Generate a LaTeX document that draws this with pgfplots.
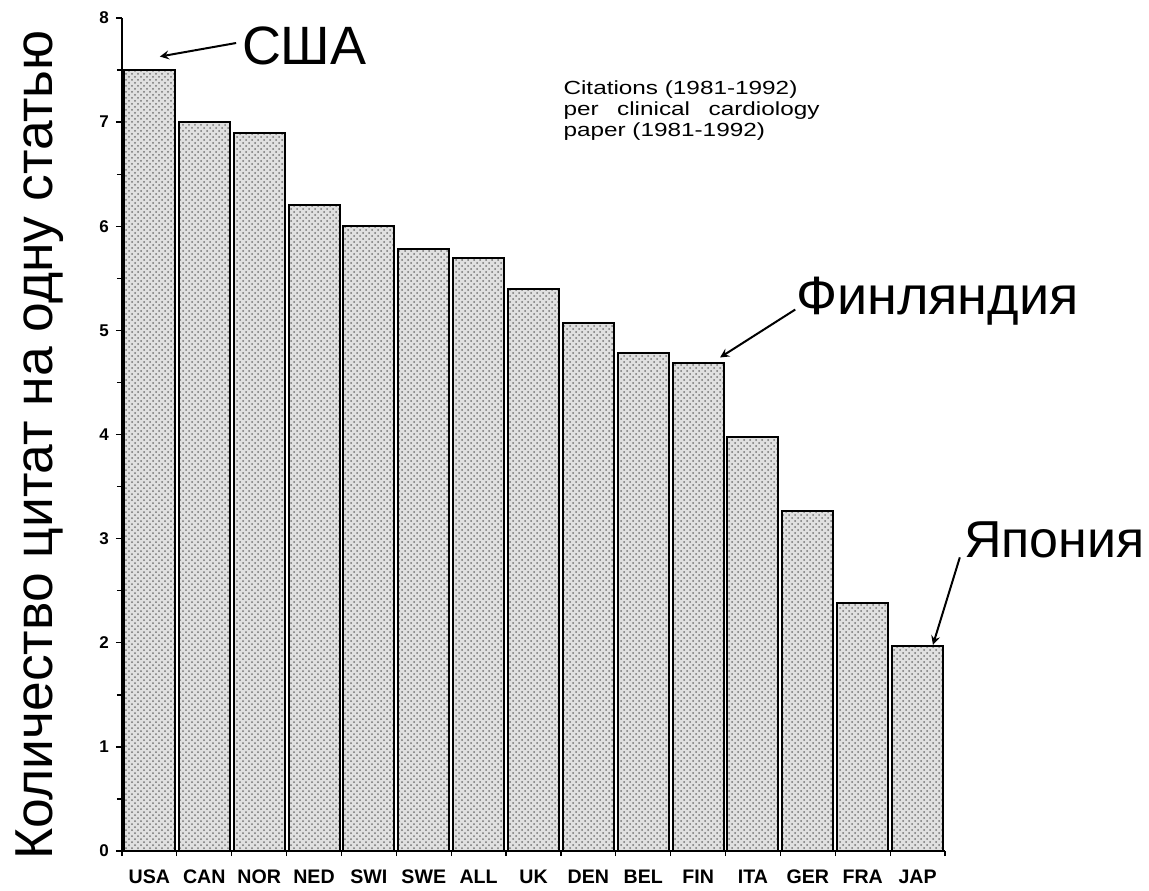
\documentclass[border=0pt]{standalone}
\usepackage{fontspec}
\setmainfont{Liberation Sans}
\newfontfamily\widefont[FakeStretch=1.28]{Liberation Sans}
\usepackage{pgfplots}
\pgfplotsset{compat=1.18}
\usetikzlibrary{patterns}
\begin{document}
\begin{tikzpicture}
\useasboundingbox (0,0) rectangle (574.5pt,445pt);
\begin{axis}[
  at={(61pt,19.5pt)}, anchor=south west,
  scale only axis, width=411.5pt, height=416.5pt,
  xmin=-0.5, xmax=14.5, ymin=0, ymax=8,
  axis x line=bottom, axis y line=left, axis line style={-, line width=1pt},
  xtick={0,...,14},
  xticklabels={USA,CAN,NOR,NED,SWI,SWE,ALL,UK,DEN,BEL,FIN,ITA,GER,FRA,JAP},
  major x tick style={draw=none},
  minor xtick={-0.5,0.5,...,14.5},
  minor x tick style={line width=0.6pt},
  ytick={0,...,8},
  minor y tick num=1,
  tick align=outside,
  major tick length=3pt, minor tick length=2.5pt,
  tick style={black, line width=0.7pt},
  xticklabel style={font=\fontsize{9.8}{12}\selectfont\bfseries, text height=7pt, text depth=0pt, yshift=-2.5pt},
  yticklabel style={font=\fontsize{8.5}{10}\selectfont\bfseries},
  /pgf/number format/assume math mode=true,
  clip=false,
]
\addplot[ybar, bar width=25.5pt, draw=black, line width=1pt, fill=black!12,
  postaction={pattern=crosshatch dots, pattern color=black!55}]
  coordinates {(0,7.5) (1,7.0) (2,6.9) (3,6.2) (4,6.0) (5,5.78) (6,5.7) (7,5.4)
   (8,5.07) (9,4.78) (10,4.69) (11,3.98) (12,3.27) (13,2.38) (14,1.97)};
\node[align=justify, text width=128pt, font=\widefont\fontsize{9.5}{10.5}\selectfont, anchor=north west, inner sep=0pt]
  at (axis cs:7.54,7.40) {Citations (1981-1992)\\ per clinical cardiology\linebreak paper (1981-1992)};
\draw[-stealth, line width=1pt] (axis cs:1.58,7.76) -- (axis cs:0.19,7.63);
\node[font=\fontsize{27}{30}\selectfont, anchor=base west, inner sep=0pt] at (axis cs:1.68,7.55) {США};
\draw[-stealth, line width=1pt] (axis cs:11.77,5.20) -- (axis cs:10.40,4.74);
\node[font=\fontsize{27}{30}\selectfont, anchor=base west, inner sep=0pt] at (axis cs:11.78,5.15) {Финляндия};
\draw[-stealth, line width=1pt] (axis cs:14.77,2.82) -- (axis cs:14.28,1.98);
\node[font=\fontsize{26}{30}\selectfont, anchor=base west, inner sep=0pt] at (axis cs:14.84,2.82) {Япония};
\end{axis}
\node[rotate=90, anchor=base, inner sep=0pt, font=\fontsize{26.7}{30}\selectfont] at (26pt,222.5pt) {Количество цитат на одну статью};
\end{tikzpicture}
\end{document}
